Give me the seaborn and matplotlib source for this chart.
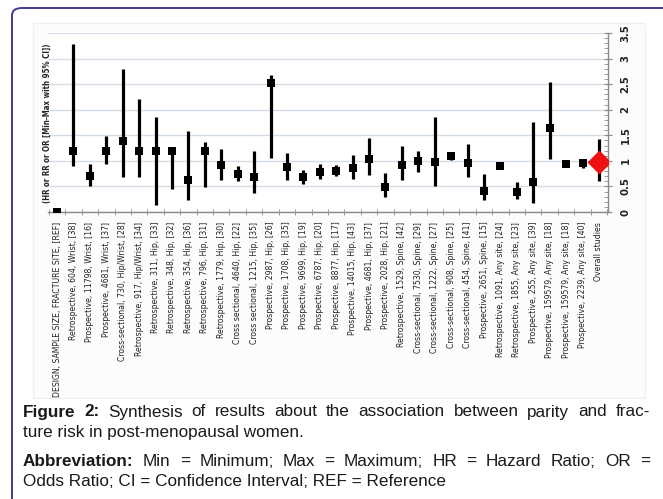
import numpy as np
import pandas as pd
import matplotlib
matplotlib.use("Agg")
import matplotlib.pyplot as plt
import seaborn as sns
from matplotlib import font_manager
from matplotlib.patches import FancyBboxPatch, Rectangle
from matplotlib.ticker import MultipleLocator

# study labels (design, sample size, fracture site, [ref])
labels = [
    "DESIGN, SAMPLE SIZE, FRACTURE SITE, [REF]",
    "Retrospective, 604, Wrist, [38]",
    "Prospective, 11798, Wrist, [16]",
    "Prospective, 4681, Wrist, [37]",
    "Cross-sectional, 730, Hip/Wrist, [28]",
    "Retrospective, 917, Hip/Wrist, [34]",
    "Retrospective, 311, Hip, [33]",
    "Retrospective, 348, Hip, [32]",
    "Retrospective, 354, Hip, [36]",
    "Retrospective, 796, Hip, [31]",
    "Retrospective, 1779, Hip, [30]",
    "Cross sectional, 4640, Hip, [22]",
    "Cross sectional, 1215, Hip, [35]",
    "Prospective, 2987, Hip, [26]",
    "Prospective, 1708, Hip, [35]",
    "Prospective, 9699, Hip, [19]",
    "Prospective, 6787, Hip, [20]",
    "Prospective, 8877, Hip, [17]",
    "Prospective, 14015, Hip, [43]",
    "Prospective, 4681, Hip, [37]",
    "Prospective, 2028, Hip, [21]",
    "Retrospective, 1529, Spine, [42]",
    "Cross-sectional, 7530, Spine, [29]",
    "Cross-sectional, 1222, Spine, [27]",
    "Cross-sectional, 908, Spine, [25]",
    "Cross-sectional, 454, Spine, [41]",
    "Prospective, 2651, Spine, [15]",
    "Retrospective, 1091, Any site, [24]",
    "Retrospective, 1855, Any site, [23]",
    "Prospective, 255, Any site, [39]",
    "Prospective, 159579, Any site, [18]",
    "Prospective, 159579, Any site, [18]",
    "Prospective, 2239, Any site, [40]",
    "Overall studies",
]

# point estimates and min/max of 95% CI
estimate = [0.0, 1.20, 0.70, 1.20, 1.39, 1.20, 1.20, 1.20, 0.62, 1.20, 0.91,
            0.74, 0.68, 2.53, 0.88, 0.68, 0.79, 0.81, 0.87, 1.04, 0.49,
            0.91, 0.99, 0.98, 1.09, 0.96, 0.42, 0.89, 0.39, 0.59, 1.64,
            0.93, 0.96, 0.97]
ci_low = [0.0, 0.89, 0.50, 0.94, 0.69, 0.69, 0.14, 0.44, 0.24, 0.48, 0.62,
          0.60, 0.37, 1.05, 0.62, 0.55, 0.64, 0.70, 0.64, 0.73, 0.30,
          0.63, 0.79, 0.51, 1.01, 0.68, 0.24, 0.85, 0.26, 0.18, 1.04,
          0.93, 0.87, 0.61]
ci_high = [0.0, 3.28, 0.94, 1.49, 2.79, 2.21, 1.86, 1.20, 1.59, 1.37, 1.23,
           0.89, 1.20, 2.68, 1.16, 0.82, 0.94, 0.92, 1.12, 1.44, 0.76,
           1.30, 1.20, 1.85, 1.15, 1.33, 0.74, 0.94, 0.59, 1.76, 2.55,
           0.93, 1.01, 1.43]

y_ticks = [0, 0.5, 1, 1.5, 2, 2.5, 3, 3.5]
y_tick_labels = ["0", "0.5", "1", "1.5", "2", "2.5", "3", "3.5"]

df = pd.DataFrame({"label": labels, "est": estimate, "lo": ci_low, "hi": ci_high})
df["pos"] = np.arange(len(df))
studies = df.iloc[:-1]
overall = df.iloc[-1:]

sns.set_theme(style="white")
plt.rcParams["font.family"] = ["Liberation Sans", "DejaVu Sans"]

# look for a condensed face for the chart texts (the original looks like Calibri)
narrow, narrow_stretch = "Liberation Sans", "normal"
for f in font_manager.fontManager.ttflist:
    st = str(f.stretch).lower()
    if ("narrow" in f.name.lower() or "condensed" in f.name.lower()
            or st in ("condensed", "semi-condensed", "extra-condensed")) and f.weight in (400, "normal", "regular"):
        narrow, narrow_stretch = f.name, f.stretch
        break
chart_font = dict(family=[narrow, "DejaVu Sans"], stretch=narrow_stretch)

W, H = 663, 499
fig = plt.figure(figsize=(W / 100, H / 100), dpi=100)
fig.patch.set_facecolor("white")

# outer frame (only top and left edges visible)
frame = FancyBboxPatch((12 / W, -0.2), 1.2, 1 - 8 / H + 0.2,
                       boxstyle="round,pad=0,rounding_size=0.015",
                       transform=fig.transFigure, fill=False,
                       edgecolor="#3d3c8e", linewidth=1.4, zorder=-2)
fig.patches.append(frame)

# chart image area
fig.patches.append(Rectangle((33 / W, 1 - 398 / H), (645 - 33) / W, (398 - 23) / H,
                             transform=fig.transFigure, facecolor="#fcfcfc",
                             edgecolor="#f0f0f0", linewidth=1, zorder=-1))

ax = fig.add_axes([48 / W, 1 - 212 / H, (608 - 48) / W, (212 - 33) / H])
ax.set_facecolor("white")

ax.vlines(studies["pos"], studies["lo"], studies["hi"], color="black", linewidth=2.3, zorder=3)
ax.vlines(overall["pos"], overall["lo"], overall["hi"], color="black", linewidth=2.3, zorder=3)
sns.scatterplot(data=studies, x="pos", y="est", marker="s", color="black", s=26,
                linewidth=0, ax=ax, zorder=4)
sns.scatterplot(data=overall, x="pos", y="est", marker="D", color="#ee1111", s=150,
                linewidth=0, ax=ax, zorder=5)

ax.set_xlim(-0.55, len(df) - 0.45)
ax.set_ylim(0, 3.5)
ax.yaxis.set_minor_locator(MultipleLocator(0.1))
ax.yaxis.tick_right()
ax.grid(axis="y", color="#d3dde8", linewidth=1)
ax.set_axisbelow(True)
for side in ["top", "left"]:
    ax.spines[side].set_visible(False)
for side in ["right", "bottom"]:
    ax.spines[side].set_color("#8a8a8a")
    ax.spines[side].set_linewidth(1)

ax.set_yticks(y_ticks)
ax.set_yticklabels(y_tick_labels, rotation=90, va="center", fontsize=8,
                   fontweight="bold", color="#222222", **chart_font)
ax.tick_params(axis="y", which="major", direction="inout", length=6, width=0.8,
               color="#8a8a8a", pad=6, right=True, left=False)
ax.tick_params(axis="y", which="minor", direction="in", length=3, width=0.6,
               color="#8a8a8a", right=True, left=False)

ax.set_xticks(df["pos"])
ax.set_xticklabels(df["label"], rotation=90, fontsize=6.5, color="#222222", **chart_font)
ax.xaxis.set_minor_locator(MultipleLocator(0.5))
ax.tick_params(axis="x", which="major", length=0, pad=7)
ax.tick_params(axis="x", which="minor", direction="inout", length=4, width=0.6,
               color="#8a8a8a", bottom=True)
ax.set_xlabel("")
ax.set_ylabel("")

ylab = fig.text(47 / W, 1 - 123 / H, "(HR or RR or OR [Min-Max with 95% CI])", rotation=90,
                ha="center", va="center", fontsize=6.8, fontweight="bold",
                color="#222222", **chart_font)

# fit chart text sizes to the lengths seen in the original
fig.canvas.draw()
first = ax.get_xticklabels()[0]
k = 175 / first.get_window_extent().height
for t in ax.get_xticklabels():
    t.set_fontsize(6.5 * k)
k2 = 160 / ylab.get_window_extent().height
ylab.set_fontsize(6.8 * k2)

# caption
cap_fs = 12.3
cap_kw = dict(fontsize=cap_fs, color="#1a1a1a", va="center", ha="left")
x_left, x_right = 23, 650


def justified(words, y):
    texts = [fig.text(0, 1 - y / H, w, fontweight=wt, **cap_kw) for w, wt in words]
    fig.canvas.draw()
    widths = [t.get_window_extent().width for t in texts]
    gap = (x_right - x_left - sum(widths)) / (len(texts) - 1)
    x = x_left
    for t, w in zip(texts, widths):
        t.set_x(x / W)
        x += w + gap


line1 = [("Figure", "bold"), ("2:", "bold")] + [
    (w, "normal") for w in "Synthesis of results about the association between parity and frac-".split()]
line3 = [("Abbreviation:", "bold")] + [
    (w, "normal") for w in "Min = Minimum; Max = Maximum; HR = Hazard Ratio; OR =".split()]
justified(line1, 412)
fig.text(x_left / W, 1 - 433 / H, "ture risk in post-menopausal women.", **cap_kw)
justified(line3, 461)
fig.text(x_left / W, 1 - 481 / H, "Odds Ratio; CI = Confidence Interval; REF = Reference", **cap_kw)

fig.savefig("out.png", dpi=100)
